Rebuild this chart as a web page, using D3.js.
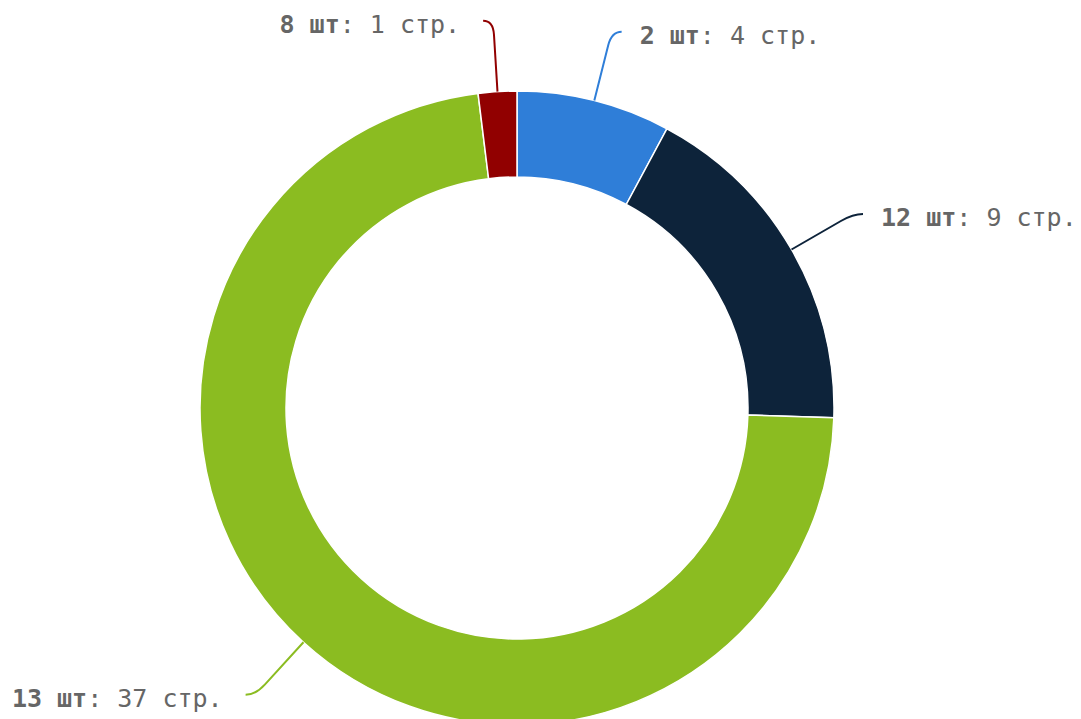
<!DOCTYPE html>
<html>
<head>
<meta charset="utf-8">
<script src="https://cdn.jsdelivr.net/npm/d3@7"></script>
<style>
  body { margin: 0; background: #fff; }
  svg { display: block; }
  .lbl { font-family: "DejaVu Sans Mono", monospace; font-size: 25px; fill: #666; }
  .lbl .b { font-weight: bold; }
</style>
</head>
<body>
<div id="chart"></div>
<script>
var names = ["2 шт", "12 шт", "13 шт", "8 шт"];
var pages = [4, 9, 37, 1];
var colors = ["#2f7ed8", "#0d233a", "#8bbc21", "#910000"];

var width = 1081,
    height = 719,
    cx = 517, cy = 408,
    radius = 317,
    innerRadius = 231,
    labelDist = 71;

var data = names.map(function(n, i) { return { name: n, value: pages[i], color: colors[i] }; });

var pie = d3.pie()
    .sort(null)
    .value(function(d) { return d.value; });

var arc = d3.arc()
    .innerRadius(innerRadius)
    .outerRadius(radius);

var svg = d3.select("#chart").append("svg")
    .attr("width", width)
    .attr("height", height);

var g = svg.append("g")
    .attr("transform", "translate(" + cx + "," + cy + ")");

var arcs = pie(data);

g.selectAll(".slice")
    .data(arcs)
  .enter().append("path")
    .attr("class", "slice")
    .attr("fill", function(d) { return d.data.color; })
    .attr("stroke", "#fff")
    .attr("stroke-width", 1.5)
    .attr("d", arc);

// connectors + labels
arcs.forEach(function(d) {
  var a = (d.startAngle + d.endAngle) / 2;
  var sx = radius * Math.sin(a), sy = -radius * Math.cos(a);
  var side = Math.sin(a) >= 0 ? 1 : -1;
  var ex = (radius + labelDist) * Math.sin(a) + side * 10, ey = -(radius + labelDist) * Math.cos(a);
  var bx = ex - side * 10, by = ey;
  var dx = bx - sx, dy = by - sy, len = Math.sqrt(dx * dx + dy * dy);
  var ax = bx - dx / len * 14, ay = by - dy / len * 14;

  g.append("path")
    .attr("fill", "none")
    .attr("stroke", d.data.color)
    .attr("stroke-width", 2)
    .attr("d", "M" + sx + "," + sy + "L" + ax + "," + ay + "Q" + bx + "," + by + " " + ex + "," + ey);

  var t = g.append("text")
    .attr("class", "lbl")
    .attr("x", ex + (side > 0 ? 18 : -23))
    .attr("y", ey + 12)
    .attr("text-anchor", side > 0 ? "start" : "end");
  t.append("tspan").attr("class", "b").text(d.data.name);
  t.append("tspan").text(": " + d.data.value + " стр.");
});
</script>
</body>
</html>
